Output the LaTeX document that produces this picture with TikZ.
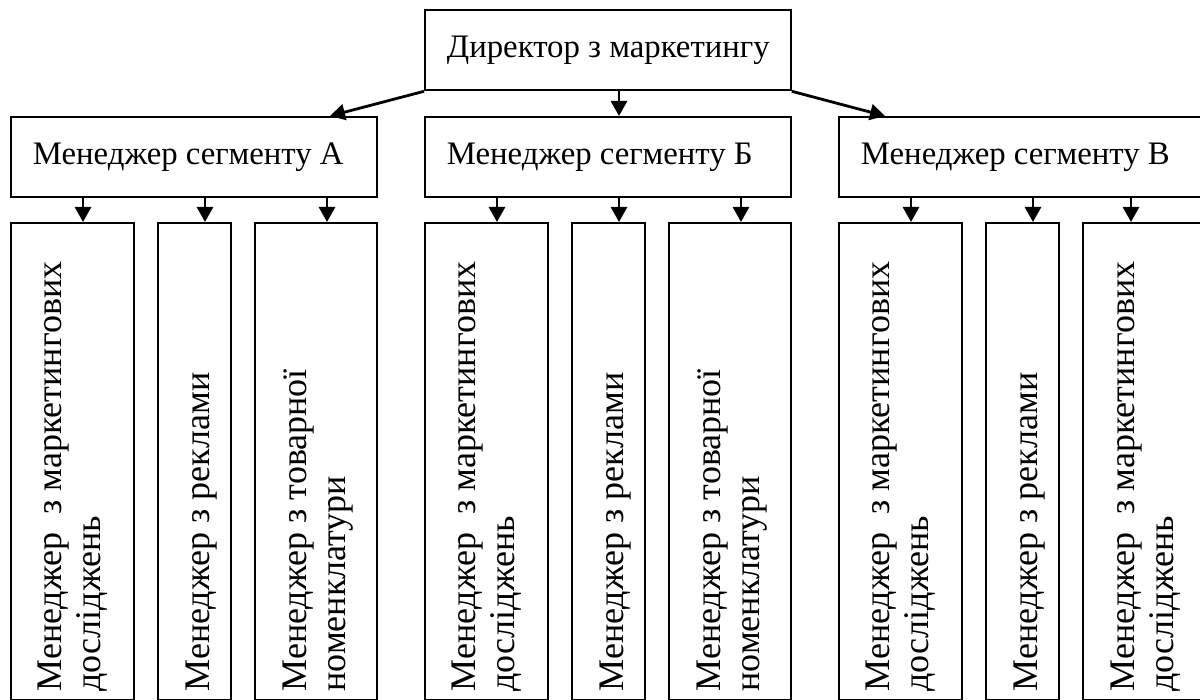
\documentclass[tikz,border=0pt]{standalone}
\usepackage{fontspec}
\setmainfont{Liberation Serif}
\usetikzlibrary{positioning,arrows.meta,calc}
\newcommand{\resLabel}{Менеджер\ \ з маркетингових\\досліджень}
\newcommand{\adLabel}{Менеджер з реклами}
\newcommand{\prodLabel}{Менеджер з товарної\\номенклатури}
\newcommand{\boxText}[1]{\makebox[161pt][l]{#1}}

\begin{document}
\begin{tikzpicture}[x=0.5pt, y=-0.5pt, font=\fontsize{18}{19.5}\selectfont, >={Triangle[length=7.5pt,width=8pt]},
      box/.style={draw, line width=0.9pt, anchor=north west, minimum width=183pt, minimum height=40pt, inner xsep=11pt,
                  font=\fontsize{16.4}{19}\selectfont},
      col/.style={draw, line width=0.9pt, anchor=north west, minimum height=238.5pt, inner sep=0pt},
      vtext/.style={rotate=90, anchor=north west, align=left, inner sep=0pt},
      link/.style={->, line width=1.4pt}]
    \useasboundingbox (0,0) rectangle (1200,700);
    % ---- director and segments
    \node[box] (dir) at (424,9.5) {\boxText{Директор з маркетингу}};
    \node[box] (segA) at (10,116) {\boxText{Менеджер сегменту А}};
    \node[box] (segB) at (424,116) {\boxText{Менеджер сегменту Б}};
    \node[box] (segC) at (838,116) {\boxText{Менеджер сегменту В}};
    \draw[link] (dir.south west) -- ($(segA.north west)+(320,0)$);
    \draw[link] ($(dir.south west)+(195,0)$) coordinate (d0) -- (d0 |- segB.north);
    \draw[link] (dir.south east) -- ($(segC.north west)+(47,0)$);
    % ---- managers under each segment
    \foreach \g/\x/\dx/\third in {A/10/73/\prodLabel, B/424/73/\prodLabel, C/838/49/\resLabel} {
      \node[col, minimum width=61.5pt] (m\g1) at (\x,222) {};
      \node[col, minimum width=36.5pt] (m\g2) at (\x+147,222) {};
      \node[col, minimum width=61pt] (m\g3) at (\x+244,222) {};
      \node[vtext] (l\g1) at ($(m\g1.south west)+(28,-9)$) {\resLabel};
      \node[vtext] (l\g2) at ($(m\g2.south west)+(29,-9)$) {\adLabel};
      \node[vtext] (l\g3) at ($(m\g3.south west)+(29,-9)$) {\third};
      \coordinate (t\g1) at ($(m\g1.north west)+(73,0)$);
      \coordinate (t\g2) at ($(m\g2.north west)+(48,0)$);
      \coordinate (t\g3) at ($(m\g3.north west)+(\dx,0)$);
      \foreach \k in {1,2,3} { \draw[link] (seg\g.south -| t\g\k) -- (t\g\k); }
    }
  \end{tikzpicture}
\end{document}
